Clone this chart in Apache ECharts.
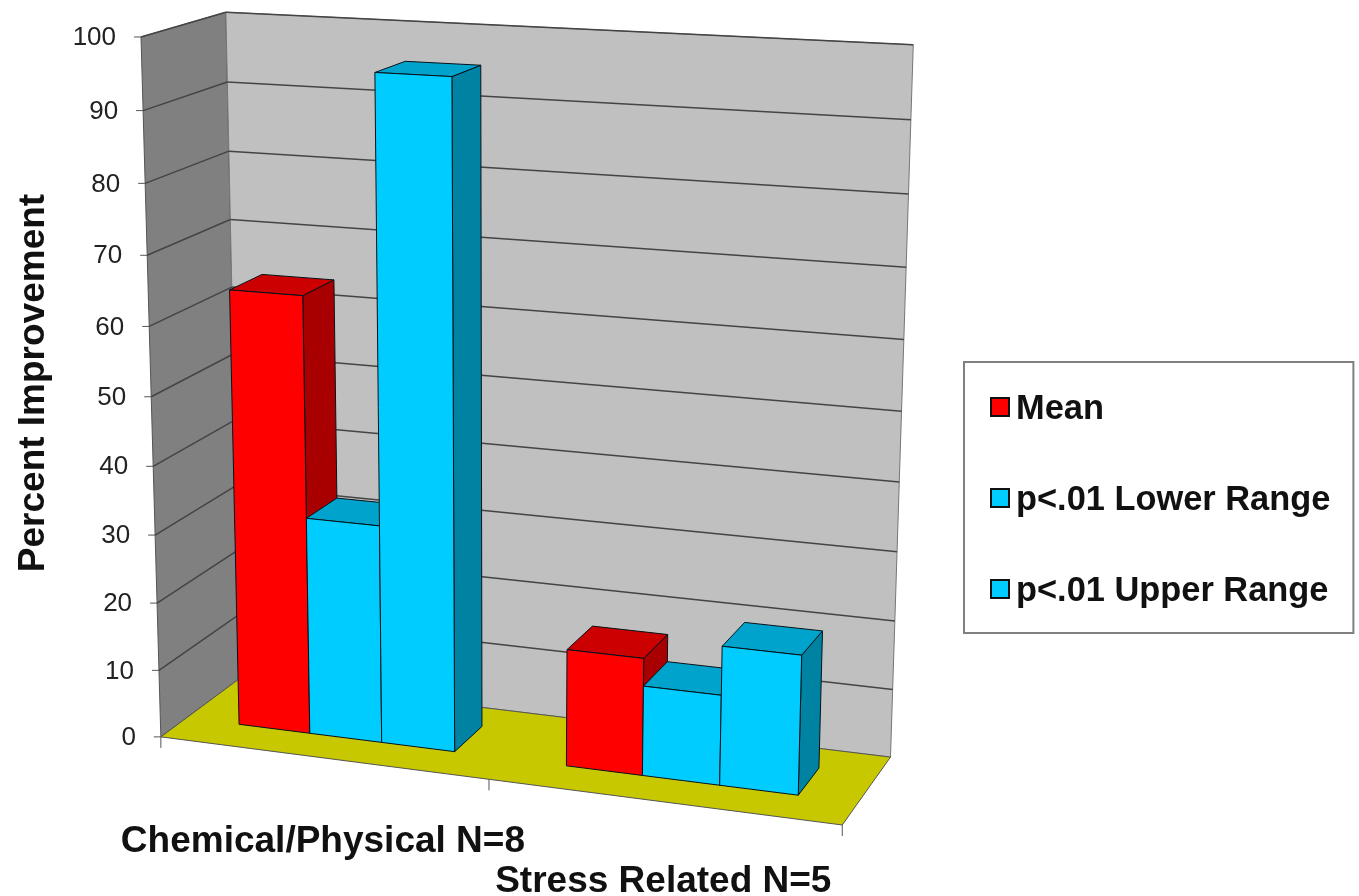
<!DOCTYPE html>
<html><head><meta charset="utf-8"><style>html,body{margin:0;background:#fff}#c{width:1359px;height:896px}</style>
<script src="https://cdn.jsdelivr.net/npm/echarts@6/dist/echarts.min.js"></script></head><body><div id="c"></div><script>
const categories=['Chemical/Physical N=8','Stress Related N=5'];
const meanValues=[64,17];
const lowerValues=[32,13];
const upperValues=[95.5,20];
const yTicks=[0,10,20,30,40,50,60,70,80,90,100];
const anchors=[[0,0,0,163,735],[0,0,1,139,37],[0,1,1,228,12],[0,1,0,238,680],[1,1,1,913,45],[1,1,0,891,755],[1,0,0,842,827]];
function fit(){const A=[],b=[];anchors.forEach(([X,D,V,x0,y0])=>{const x=x0/1000,y=y0/1000;
A.push([X,D,V,1,0,0,0,0,-x*X,-x*D,-x*V]);b.push(x);A.push([0,0,0,0,X,D,V,1,-y*X,-y*D,-y*V]);b.push(y);});
const n=11,M=[];for(let i=0;i<n;i++){M[i]=[];for(let j=0;j<n;j++){let s=0;A.forEach(r=>s+=r[i]*r[j]);M[i][j]=s;}let s=0;A.forEach((r,k)=>s+=r[i]*b[k]);M[i][n]=s;}
for(let i=0;i<n;i++){let p=i;for(let k=i+1;k<n;k++)if(Math.abs(M[k][i])>Math.abs(M[p][i]))p=k;[M[i],M[p]]=[M[p],M[i]];
for(let k=0;k<n;k++){if(k===i)continue;const f=M[k][i]/M[i][i];for(let j=i;j<=n;j++)M[k][j]-=f*M[i][j];}}
return M.map((r,i)=>r[n]/r[i]);}
const a=fit();
function P(X,D,V){const w=a[8]*X+a[9]*D+a[10]*V+1;return[1000*(a[0]*X+a[1]*D+a[2]*V+a[3])/w,1000*(a[4]*X+a[5]*D+a[6]*V+a[7])/w];}
const barLeft=[.0833,.0833+.5/4.5,.0833+1/4.5],barW=.5/4.5,depth=[.315,.72];
const colors=[['#ff0000','#cc0000','#a80000'],['#00ccff','#00a3cc','#0082a3'],['#00ccff','#00a3cc','#0082a3']];
function poly(pts,fill,stroke,lw){return{type:'polygon',shape:{points:pts},style:{fill,stroke:stroke||'none',lineWidth:lw||0}};}
function line(p,q,c,w){return{type:'line',shape:{x1:p[0],y1:p[1],x2:q[0],y2:q[1]},style:{stroke:c,lineWidth:w}};}
function bar(si){return function(params,api){const sys=params.coordSys,c=api.value(0),v=api.value(1),pt=api.coord([c,v]),band=api.size([1,0])[0]/sys.width;
const X0=(pt[0]-sys.x)/sys.width-band/2+barLeft[si]*band/.5,X1=X0+barW*band/.5,V=(sys.y+sys.height-pt[1])/sys.height,D0=depth[0],D1=depth[1],k=colors[si],s='#06121a';
return{type:'group',children:[poly([P(X1,D0,0),P(X1,D1,0),P(X1,D1,V),P(X1,D0,V)],k[2],s,1),poly([P(X0,D0,V),P(X1,D0,V),P(X1,D1,V),P(X0,D1,V)],k[1],s,1),poly([P(X0,D0,0),P(X1,D0,0),P(X1,D0,V),P(X0,D0,V)],k[0],s,1)]};};}
function frame(params,api){const sys=params.coordSys,toV=v=>(sys.y+sys.height-api.coord([0,v])[1])/sys.height,ch=[];
ch.push(poly([P(0,0,0),P(0,1,0),P(0,1,1),P(0,0,1)],'#808080','#555',1));ch.push(poly([P(0,1,0),P(1,1,0),P(1,1,1),P(0,1,1)],'#c0c0c0','#777',1));ch.push(poly([P(0,0,0),P(1,0,0),P(1,1,0),P(0,1,0)],'#c8c800','#555',1));
yTicks.forEach(t=>{const V=toV(t),f=P(0,0,V),b=P(0,1,V),e=P(1,1,V);if(t>0){ch.push(line(f,b,'#444',1.5));ch.push(line(b,e,'#444',1.5));}
ch.push(line(f,[f[0]-7,f[1]],'#555',1));ch.push({type:'text',style:{text:String(t),x:f[0]-25,y:f[1]+1,align:'right',verticalAlign:'middle',fontFamily:'Liberation Sans',fontSize:26,fill:'#222'}});});
categories.forEach((n,i)=>{const pt=api.coord([i,0]),X=(pt[0]-sys.x)/sys.width,f=P(X,0,0);ch.push({type:'text',style:{text:n,x:f[0]+1,y:f[1]+(i?80:84),align:'center',verticalAlign:'middle',fontFamily:'Liberation Sans',fontWeight:'bold',fontSize:37,fill:'#111'}});});
[0,.5,1].forEach(X=>{const f=P(X,0,0);ch.push(line(f,[f[0],f[1]+11],'#555',1));});
return{type:'group',children:ch};}
const names=['Mean','p<.01 Lower Range','p<.01 Upper Range'];
const mk=(si,vals)=>({name:names[si],type:'custom',renderItem:bar(si),itemStyle:{color:colors[si][0]},data:vals.map((v,i)=>[i,v]),encode:{x:0,y:1},silent:true});
const chart=echarts.init(document.getElementById('c'),null,{renderer:'canvas'});
chart.setOption({animation:false,backgroundColor:'#fff',tooltip:{show:false},
grid:{left:0,right:0,top:0,bottom:0},
xAxis:{type:'category',data:categories,show:false},yAxis:{type:'value',min:0,max:100,interval:10,show:false},
legend:{left:964,top:362,orient:'vertical',padding:[25,23,24,26],itemGap:51,itemWidth:18,itemHeight:18,borderColor:'#808080',borderWidth:2,icon:'rect',selectedMode:false,
formatter:n=>'{t|'+n+'}',
textStyle:{fontFamily:'Liberation Sans',fontWeight:'bold',fontSize:34.4,color:'#111',rich:{t:{fontFamily:'Liberation Sans',fontWeight:'bold',fontSize:34.4,lineHeight:34,padding:[6,0,0,2],color:'#111'}}},
data:names.map((n,i)=>({name:n,icon:'rect',itemStyle:{color:colors[i][0],borderColor:'#111',borderWidth:2}}))},
graphic:[{type:'text',rotation:Math.PI/2,x:34,y:383,style:{text:'Percent Improvement',align:'center',verticalAlign:'middle',fontFamily:'Liberation Sans',fontWeight:'bold',fontSize:37,fill:'#111'}}],
series:[{type:'custom',name:'frame',renderItem:frame,data:[[0,0]],encode:{x:0,y:1},silent:true},mk(0,meanValues),mk(1,lowerValues),mk(2,upperValues)]});
</script></body></html>
